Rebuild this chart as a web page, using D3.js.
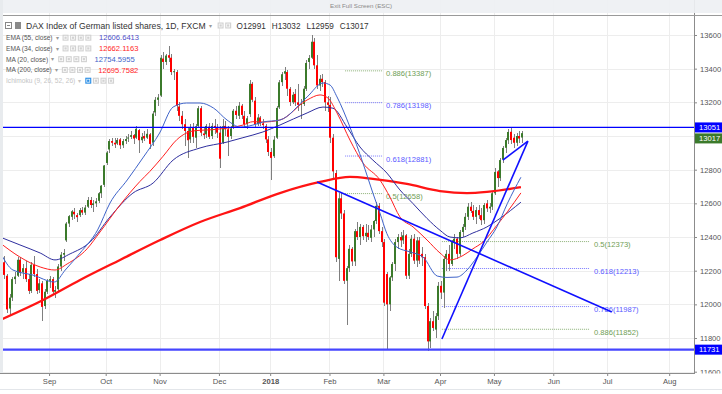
<!DOCTYPE html>
<html>
<head>
<meta charset="utf-8">
<script src="https://cdn.jsdelivr.net/npm/d3@7"></script>
<style>
  html, body { margin: 0; padding: 0; background: #fff; }
  svg { display: block; font-family: "Liberation Sans", Arial, sans-serif; }
</style>
</head>
<body>
<svg id="chart" width="722" height="394"></svg>
<script>
// daily candles [open, high, low, close], one array per month
const aug = [
  [12250,12290,12150,12175],[12170,12180,11950,11970],[11975,12060,11930,12040],[12040,12160,12020,12150],
  [12150,12190,12120,12165],[12170,12280,12160,12265],[12265,12280,12170,12190],[12190,12240,12150,12215],
  [12215,12260,12130,12150],[12150,12180,12060,12080],[12080,12250,12070,12235],[12235,12290,12160,12180],
  [12180,12210,12060,12080],[12085,12150,12070,12125],[12125,12140,11900,11985],[11990,12090,11970,12075],
  [12075,12150,12060,12140]
];
const sep = [
  [12140,12170,12100,12150],[12150,12160,12060,12075],[12075,12110,12040,12085],[12090,12240,12080,12225],
  [12225,12310,12200,12295],[12295,12330,12260,12305],[12380,12490,12370,12480],[12480,12530,12460,12524],
  [12520,12560,12500,12553],[12550,12570,12510,12535],[12530,12545,12490,12518],[12530,12570,12520,12560],
  [12560,12580,12530,12545],[12545,12590,12530,12575],[12580,12640,12570,12620],[12620,12640,12570,12590],
  [12590,12620,12550,12600],[12600,12630,12580,12612],[12615,12670,12600,12660],[12660,12710,12630,12705],
  [12710,12830,12700,12825]
];
const oct = [
  [12840,12910,12830,12902],[12920,12980,12900,12970],[12970,12990,12940,12960],[12960,12990,12930,12950],
  [12955,12990,12945,12976],[12980,12990,12920,12945],[12945,12980,12930,12970],[12970,13000,12950,12982],
  [12985,13010,12965,12991],[12995,13030,12980,13005],[13005,13010,12950,12985],[12990,13060,12980,13043],
  [13035,13040,12900,12975],[12975,13020,12960,12995],[13000,13030,12970,12985],[12990,13040,12980,13013],
  [13010,13020,12920,12953],[12960,13150,12940,13133],[13140,13230,13120,13215],[13215,13250,13180,13229]
];
const nov = [
  [13240,13480,13230,13465],[13460,13500,13400,13440],[13440,13490,13420,13478],[13480,13535,13440,13465],
  [13465,13490,13360,13380],[13380,13400,13330,13385],[13380,13390,13150,13180],[13175,13200,13090,13120],
  [13120,13150,13040,13070],[13070,13100,12940,13030],[13030,13050,12870,12975],[12980,13070,12960,13047],
  [13050,13080,12960,12995],[12990,13070,12930,13058],[13060,13180,13050,13165],[13165,13180,13000,13020],
  [13015,13050,12980,13005],[13010,13070,12990,13060],[13055,13080,12980,12995],[13000,13080,12980,13060],
  [13060,13100,13010,13050],[13050,13070,12990,13020]
];
const dec = [
  [13020,13060,12810,12865],[12960,13100,12950,13058],[13060,13090,13000,13040],[13040,13060,12880,12995],
  [13000,13060,12980,13045],[13050,13160,13040,13150],[13150,13180,13100,13125],[13120,13200,13100,13180],
  [13180,13190,13100,13125],[13120,13150,13050,13070],[13070,13120,13040,13105],[13130,13330,13110,13310],
  [13310,13320,13200,13215],[13210,13230,13050,13070],[13070,13130,13060,13110],[13110,13120,13060,13075],
  [13075,13100,13040,13065],[13060,13070,12960,12980],[12980,13000,12880,12905]
];
const jan = [
  [12905,12930,12740,12870],[12880,13000,12870,12978],[12990,13180,12980,13167],[13170,13330,13160,13319],
  [13320,13380,13300,13367],[13370,13410,13330,13385],[13380,13390,13240,13281],[13280,13290,13180,13202],
  [13200,13260,13190,13245],[13250,13280,13180,13200],[13200,13310,13150,13185],[13185,13220,13100,13190],
  [13190,13300,13180,13281],[13280,13450,13270,13434],[13440,13480,13400,13463],[13465,13600,13455,13560],
  [13560,13580,13400,13420],[13420,13480,13280,13300],[13300,13360,13270,13340],[13340,13370,13290,13320],
  [13320,13330,13150,13200],[13200,13240,13140,13185]
];
const feb = [
  [13185,13230,12960,12990],[12990,13010,12750,12790],[12780,12800,12250,12280],[12270,12660,12140,12630],
  [12630,12660,12510,12540],[12540,12560,12120,12140],[12140,12230,11880,12215],[12215,12350,12190,12330],
  [12330,12340,12230,12255],[12255,12450,12230,12435],[12435,12490,12380,12400],[12400,12480,12350,12460],
  [12460,12470,12380,12405],[12405,12480,12370,12425],[12425,12470,12380,12400],[12395,12470,12370,12445],
  [12445,12500,12400,12495],[12495,12610,12480,12585],[12585,12600,12420,12435],[12435,12460,12340,12370]
];
const mar = [
  [12370,12390,11990,12010],[12180,12190,11735,12000],[12000,12170,11960,12160],[12160,12250,12140,12240],
  [12240,12390,12200,12370],[12370,12420,12330,12400],[12400,12430,12340,12380],[12380,12440,12360,12410],
  [12410,12420,12150,12170],[12170,12330,12150,12300],[12300,12410,12280,12390],[12390,12420,12240,12260],
  [12260,12400,12220,12380],[12380,12400,12240,12260],[12300,12340,12230,12280],[12280,12300,11970,11990],
  [11990,12010,11725,11780],[11780,11920,11740,11900],[11900,11960,11840,11860],[11850,11950,11800,11930],
  [11930,12130,11910,12110]
];
const apr = [
  [12110,12140,12030,12070],[12070,12290,11980,12270],[12270,12320,12200,12300],[12300,12350,12200,12240],
  [12240,12380,12230,12370],[12370,12420,12330,12390],[12390,12400,12270,12300],[12300,12440,12290,12430],
  [12430,12480,12400,12460],[12460,12540,12440,12520],[12520,12600,12500,12580],[12580,12610,12540,12555],
  [12555,12590,12500,12520],[12520,12580,12480,12560],[12560,12590,12510,12530],[12530,12570,12470,12500],
  [12500,12600,12480,12590],[12600,12620,12550,12570],[12570,12600,12540,12580],[12580,12670,12560,12660]
];
const may = [
  [12660,12810,12650,12786],[12790,12800,12700,12750],[12750,12870,12730,12857],[12860,12940,12840,12929],
  [12930,12990,12900,12976],[12975,13040,12950,13024],[13025,13050,12950,12976],[12990,13010,12930,12960],
  [12960,13020,12940,13000],[13000,13030,12960,12985],[12991,13032,12959,13017]
];

// moving averages: [bar index, value]
const ema55 = [[-1.2,12400],[6.2,12353],[13.7,12305],[19.2,12264],[24.8,12300],[32.2,12370],[39.6,12519],
  [48.1,12661],[55.6,12721],[63,12857],[73,12929],[83,12964],[88.9,12990],[96.3,13024],[102.6,13065],
  [112.7,13137],[118.6,13172],[122.3,13165],[127.5,13053],[132.3,12935],[137.1,12857],[142.3,12780],
  [147.1,12680],[151.9,12600],[157.2,12510],[162,12440],[165.7,12400],[169.4,12395],[174.2,12424],
  [179.4,12460],[184.2,12510],[192,12607]];
const ema34 = [[-1.2,12365],[6.2,12281],[13.7,12222],[19.2,12204],[23.7,12240],[31.1,12330],[35.9,12430],
  [43.3,12590],[50.7,12730],[54.4,12790],[59.3,12880],[64.5,12980],[70.4,13030],[79.3,13040],[88.9,13065],
  [92.6,13085],[96.3,13083],[102.6,13095],[112.7,13214],[117.5,13244],[120.4,13226],[123.8,13137],
  [128.6,12976],[133.4,12840],[139.7,12739],[143.4,12638],[147.1,12520],[152,12460],[157.2,12382],
  [162,12305],[165.7,12264],[170.5,12290],[174.2,12330],[177.9,12370],[183.1,12470],[187,12550],[192,12662]];
const ma20 = [[-1.2,12311],[3.6,12204],[11,12174],[19,12133],[23,12204],[28.5,12305],[35,12442],[39.6,12602],
  [46,12739],[52,12875],[58,13018],[63,13172],[68,13196],[73,13196],[78,13166],[83,13095],[88,13053],
  [92.6,13065],[96.3,13083],[102.6,13095],[112.7,13232],[118.6,13315],[121.2,13303],[123.8,13232],
  [128.6,13053],[133.4,12840],[137.1,12661],[139.7,12543],[142.3,12420],[146,12340],[151,12311],
  [155.7,12281],[161,12168],[164.6,12160],[168.3,12162],[172,12204],[175.7,12281],[179.4,12370],
  [183.1,12460],[187,12600],[192,12755]];
const ma200 = [[-1.2,11907],[14.8,12026],[28.5,12145],[43.3,12264],[58.2,12382],[73,12489],[87.8,12572],
  [102.6,12661],[117.5,12727],[128.6,12757],[137.1,12745],[149.7,12715],[162,12673],[172,12661],
  [179.4,12668],[192,12696]];

// axis ticks
const monthTicks = [17, 38, 58, 80, 99, 121, 141, 162, 182, 204, 224, 247];
const monthLabels = ['Sep', 'Oct', 'Nov', 'Dec', '2018', 'Feb', 'Mar', 'Apr', 'May', 'Jun', 'Jul', 'Aug'];
const priceTicks = [11600, 11800, 12000, 12200, 12400, 12600, 12800, 13000, 13200, 13400, 13600];

// drawings
const hLevels = [13051, 11731];
const trendLines = [
  [[116.4, 12727], [225.7, 11955]],
  [[162.7, 11794], [194.6, 12970]],
  [[185.3, 12857], [194.6, 12970]]
];
const fibRatiosA = ['0.886', '0.786', '0.618', '0.5'];
const fibPricesA = [13387, 13198, 12881, 12658];
const fibSpanA = [126.8, 140.5];
const fibRatiosB = ['0.5', '0.618', '0.786', '0.886'];
const fibPricesB = [12373, 12213, 11987, 11852];
const fibSpanB = [162.7, 217.6];

// legend
const titleText = 'DAX Index of German listed shares, 1D, FXCM';
const studyNames = ['EMA (55, close)', 'EMA (34, close)', 'MA (20, close)', 'MA (200, close)', 'Ichimoku (9, 26, 52, 26)'];
const studyValues = ['12606.6413', '12662.1163', '12754.5955', '12695.7582', ''];
const ohlcLetters = ['O', 'H', 'L', 'C'];

const candles = [].concat(aug, sep, oct, nov, dec, jan, feb, mar, apr, may);

const greenC = '#3b7a2b', redC = '#ff0000', wickC = '#7f7f7f';
const blueLine = '#1010ff';
const fibColor = r => (r === '0.5' || r === '0.886') ? '#6f9e55' : '#5a5aff';

const svg = d3.select('#chart');
const plot = {left: 3, right: 694, top: 16, bottom: 373};

const x = d3.scaleLinear().domain([-1.2, 256.2]).range([0, plot.right]);
const y = d3.scaleLinear().domain([11600, 13600]).range([371.7, 35]);

svg.append('rect').attr('width', 722).attr('height', 394).attr('fill', '#fff');

const defs = svg.append('defs');
defs.append('clipPath').attr('id', 'plotClip').append('rect')
    .attr('x', plot.left).attr('y', plot.top)
    .attr('width', plot.right - plot.left).attr('height', plot.bottom - plot.top);
defs.append('clipPath').attr('id', 'axisClip').append('rect')
    .attr('x', plot.right).attr('y', 0).attr('width', 40).attr('height', plot.bottom);

// grid
const grid = svg.append('g');
grid.selectAll('line.h').data(priceTicks).enter().append('line')
    .attr('x1', plot.left).attr('x2', plot.right)
    .attr('y1', d => Math.round(y(d)) + 0.5).attr('y2', d => Math.round(y(d)) + 0.5)
    .attr('stroke', '#ededed');
grid.selectAll('line.v').data(monthTicks).enter().append('line')
    .attr('x1', d => Math.round(x(d)) + 0.5).attr('x2', d => Math.round(x(d)) + 0.5)
    .attr('y1', 0).attr('y2', plot.bottom)
    .attr('stroke', '#ededed');

const pane = svg.append('g').attr('clip-path', 'url(#plotClip)');

// fibonacci levels (under the candles)
function drawFib(ratios, prices, span) {
  const g = pane.append('g');
  g.selectAll('line').data(prices).enter().append('line')
      .attr('x1', x(span[0])).attr('x2', x(span[1]))
      .attr('y1', d => y(d)).attr('y2', d => y(d))
      .attr('stroke', (d, i) => fibColor(ratios[i]))
      .attr('stroke-dasharray', '1,1')
      .attr('stroke-opacity', 0.8);
  g.selectAll('text').data(prices).enter().append('text')
      .attr('x', x(span[1]) + 4).attr('y', d => y(d) + 5.5)
      .attr('font-size', 7.6)
      .attr('fill', (d, i) => fibColor(ratios[i]))
      .text((d, i) => `${ratios[i]}(${d})`);
}
drawFib(fibRatiosA, fibPricesA, fibSpanA);
drawFib(fibRatiosB, fibPricesB, fibSpanB);

// candles
const cg = pane.append('g');
cg.selectAll('line.wick').data(candles).enter().append('line')
    .attr('x1', (d, i) => Math.round(x(i)) + 1).attr('x2', (d, i) => Math.round(x(i)) + 1)
    .attr('y1', d => y(d[1])).attr('y2', d => y(d[2]))
    .attr('stroke', wickC).attr('shape-rendering', 'crispEdges');
cg.selectAll('rect.body').data(candles).enter().append('rect')
    .attr('x', (d, i) => Math.round(x(i)))
    .attr('width', 2)
    .attr('y', d => y(Math.max(d[0], d[3])))
    .attr('height', d => Math.max(1, Math.abs(y(d[0]) - y(d[3]))))
    .attr('fill', d => d[3] >= d[0] ? greenC : redC);

// moving averages
const line = d3.line().x(d => x(d[0])).y(d => y(d[1])).curve(d3.curveMonotoneX);
const maStyles = [
  [ma200, '#ff1414', 2.3],
  [ema55, '#2e2e9e', 1],
  [ema34, '#ff1f1f', 1],
  [ma20, '#3e63c9', 1]
];
maStyles.forEach(([data, color, w]) => {
  pane.append('path').attr('d', line(data))
      .attr('fill', 'none').attr('stroke', color).attr('stroke-width', w);
});

// trend lines and horizontal levels
pane.selectAll('line.trend').data(trendLines).enter().append('line')
    .attr('x1', d => x(d[0][0])).attr('y1', d => y(d[0][1]))
    .attr('x2', d => x(d[1][0])).attr('y2', d => y(d[1][1]))
    .attr('stroke', blueLine).attr('stroke-width', 1.6);
pane.selectAll('line.level').data(hLevels).enter().append('line')
    .attr('x1', plot.left).attr('x2', plot.right)
    .attr('y1', d => y(d)).attr('y2', d => y(d))
    .attr('stroke', (d, i) => i === 0 ? '#0000ff' : '#4646ff')
    .attr('stroke-width', (d, i) => i === 0 ? 1.4 : 2.4);

// x axis
const gx = svg.append('g').attr('transform', `translate(0,${plot.bottom})`)
    .call(d3.axisBottom(x).tickValues(monthTicks).tickFormat((d, i) => monthLabels[i])
      .tickSize(3).tickPadding(3));
gx.attr('font-family', null).attr('font-size', null);
gx.select('.domain').remove();
gx.selectAll('.tick line').attr('stroke', '#888');
gx.selectAll('.tick text').attr('font-size', 7.6).attr('fill', '#555')
    .attr('font-weight', (d, i) => monthLabels[i] === '2018' ? 'bold' : null);
svg.append('line').attr('x1', 0).attr('x2', plot.right)
    .attr('y1', plot.bottom + 0.5).attr('y2', plot.bottom + 0.5).attr('stroke', '#8c8c8c');

// price label boxes on the axis
const lastClose = candles[candles.length - 1][3];
const boxes = [
  {v: hLevels[0], fill: '#0000ff'},
  {v: lastClose, fill: '#3b7a2b'},
  {v: hLevels[1], fill: '#0000ff'}
].map(b => Object.assign(b, {cy: y(b.v)}));
boxes.sort((a, b) => a.cy - b.cy);
const boxH = 10;
boxes.forEach((b, i) => {
  if (i > 0) b.cy = Math.max(b.cy, boxes[i - 1].cy + boxH + 1);
});

// y axis
const gy = svg.append('g').attr('transform', `translate(${plot.right},0)`)
    .attr('clip-path', null)
    .call(d3.axisRight(y).tickValues(priceTicks.filter(v =>
        boxes.every(b => Math.abs(y(v) - b.cy) > 8))).tickFormat(d3.format('d'))
      .tickSize(3).tickPadding(3));
gy.attr('font-family', null).attr('font-size', null);
gy.select('.domain').remove();
gy.selectAll('.tick line').attr('stroke', '#888');
gy.selectAll('.tick text').attr('font-size', 7.6).attr('fill', '#555');
gy.selectAll('.tick').filter(d => y(d) > plot.bottom - 4).attr('clip-path', 'url(#axisClipLocal)');
defs.append('clipPath').attr('id', 'axisClipLocal').append('rect')
    .attr('x', -5).attr('y', -40).attr('width', 40).attr('height', 40 + plot.bottom - y(11600));
svg.append('line').attr('x1', plot.right + 0.5).attr('x2', plot.right + 0.5)
    .attr('y1', 0).attr('y2', plot.bottom + 1).attr('stroke', '#8c8c8c');

const bg = svg.append('g');
bg.selectAll('rect').data(boxes).enter().append('rect')
    .attr('x', plot.right + 1).attr('y', d => d.cy - boxH / 2)
    .attr('width', 722 - plot.right - 1).attr('height', boxH)
    .attr('fill', d => d.fill);
bg.selectAll('text').data(boxes).enter().append('text')
    .attr('x', plot.right + 5).attr('y', d => d.cy + 2.8)
    .attr('font-size', 7.6).attr('fill', '#fff')
    .text(d => d.v);

// header strip
svg.append('rect').attr('x', 0).attr('y', 0).attr('width', 722).attr('height', 13)
    .attr('fill', '#eef0f3').attr('fill-opacity', 0.92);
svg.append('line').attr('x1', 0).attr('x2', 722).attr('y1', 15.5).attr('y2', 15.5)
    .attr('stroke', '#9a9a9a');
svg.append('text').attr('x', 361).attr('y', 8).attr('text-anchor', 'middle')
    .attr('font-size', 6.2).attr('fill', '#8a8a8a').text('Exit Full Screen (ESC)');
svg.append('rect').attr('x', 0).attr('y', 0).attr('width', 3).attr('height', plot.bottom)
    .attr('fill', '#e8ebee');

// legend
const lg = svg.append('g');
lg.append('rect').attr('x', 5.5).attr('y', 22.5).attr('width', 6).attr('height', 6)
    .attr('fill', 'none').attr('stroke', '#888');
lg.append('line').attr('x1', 7).attr('x2', 10).attr('y1', 25.5).attr('y2', 25.5).attr('stroke', '#888');
lg.append('rect').attr('x', 15).attr('y', 22).attr('width', 6).attr('height', 7).attr('fill', '#8a8a8a');
const title = lg.append('text').attr('x', 26).attr('y', 29).attr('font-size', 8.6)
    .attr('fill', '#333').text(titleText);
const tEnd = 26 + title.node().getComputedTextLength();

function iconSquares(g, x0, yc, n, firstBlue) {
  for (let k = 0; k < n; k++) {
    g.append('rect').attr('x', x0 + k * 7.6).attr('y', yc - 3)
        .attr('width', 6).attr('height', 6)
        .attr('fill', (firstBlue && k === 0) ? '#2b8fe6' : '#d2d2d2');
    g.append('rect').attr('x', x0 + k * 7.6 + 1.5).attr('y', yc - 1.5)
        .attr('width', 3).attr('height', 3)
        .attr('fill', 'none').attr('stroke', '#fff').attr('stroke-width', 0.7);
  }
}
lg.append('text').attr('x', tEnd + 3).attr('y', 28).attr('font-size', 6).attr('fill', '#999').text('▾');
iconSquares(lg, tEnd + 12, 25.5, 2, false);
const last = candles[candles.length - 1];
const ohlcText = lg.append('text').attr('x', tEnd + 31).attr('y', 29).attr('font-size', 8.2).attr('fill', '#333');
ohlcLetters.forEach((l, i) => {
  ohlcText.append('tspan').attr('dx', i ? 6 : 0).text(l);
  ohlcText.append('tspan').text(last[i]);
});

const valueColors = ['#4c4cc8', '#ff1f1f', '#3e63c9', '#ff1f1f'];
studyNames.forEach((name, i) => {
  const yc = 37.7 + i * 10.75;
  const faded = i === 4;
  const t = lg.append('text').attr('x', 6).attr('y', yc + 2.4).attr('font-size', 6.6)
      .attr('fill', faded ? '#c4c4c4' : '#555').text(name);
  const e = 6 + t.node().getComputedTextLength();
  lg.append('text').attr('x', e + 3).attr('y', yc + 2.2).attr('font-size', 5.5)
      .attr('fill', faded ? '#c4c4c4' : '#999').text('▾');
  iconSquares(lg, e + 10, yc, 4, faded);
  if (studyValues[i]) {
    lg.append('text').attr('x', e + 10 + 4 * 7.6 + 6).attr('y', yc + 2.6).attr('font-size', 7.6)
        .attr('fill', valueColors[i]).text(studyValues[i]);
  }
});

// bottom toolbar separator
svg.append('line').attr('x1', 0).attr('x2', 722).attr('y1', 389.5).attr('y2', 389.5)
    .attr('stroke', '#e3e6ea');
</script>
</body>
</html>
